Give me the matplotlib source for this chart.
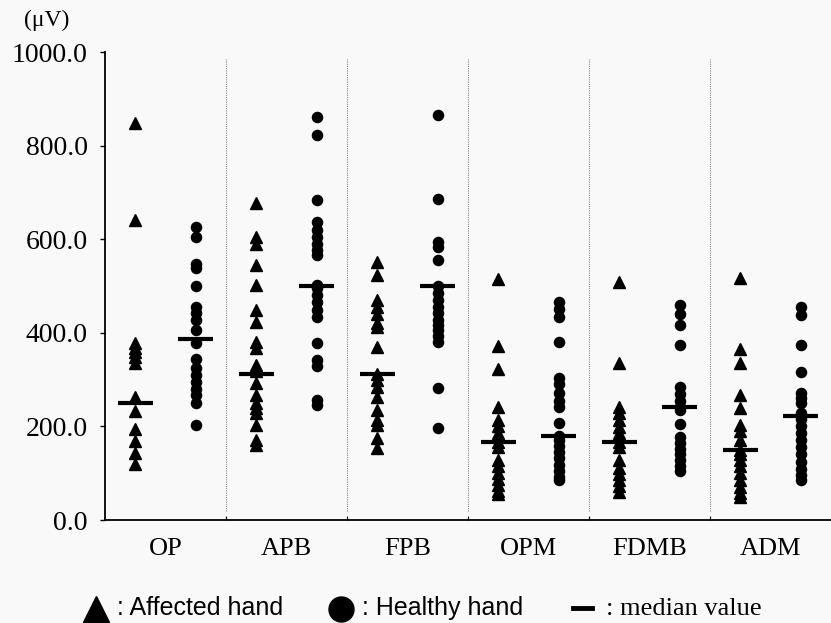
import matplotlib.pyplot as plt
from matplotlib.lines import Line2D

# muscle groups
categories = ['OP', 'APB', 'FPB', 'OPM', 'FDMB', 'ADM']

# amplitudes (uV), affected hand
affected = [
    [849, 642, 378, 368, 358, 348, 336, 262, 232, 195, 168, 143, 120],
    [677, 605, 590, 545, 502, 449, 424, 381, 367, 331, 318, 292, 267, 250, 240, 229, 203, 170, 160],
    [552, 524, 470, 455, 440, 421, 413, 370, 313, 300, 285, 263, 235, 214, 203, 175, 153],
    [515, 372, 322, 242, 214, 200, 185, 167, 157, 128, 115, 100, 88, 75, 62, 55],
    [509, 335, 242, 228, 214, 199, 185, 166, 155, 128, 112, 98, 85, 72, 60],
    [518, 365, 335, 267, 239, 203, 190, 171, 150, 142, 128, 115, 100, 85, 70, 58, 50],
]
# healthy hand
healthy = [
    [627, 605, 548, 538, 499, 456, 442, 427, 406, 378, 345, 325, 310, 295, 280, 268, 249, 203],
    [862, 823, 684, 637, 620, 605, 590, 577, 566, 502, 495, 480, 465, 449, 434, 378, 342, 328, 256, 246],
    [865, 685, 595, 584, 556, 499, 485, 470, 455, 442, 428, 417, 405, 393, 381, 283, 196],
    [466, 450, 434, 381, 303, 290, 271, 255, 242, 207, 180, 171, 158, 145, 132, 118, 105, 92, 85],
    [459, 440, 417, 375, 285, 270, 255, 242, 235, 205, 178, 165, 152, 140, 128, 115, 105],
    [456, 438, 374, 317, 271, 260, 250, 229, 215, 200, 185, 170, 155, 140, 125, 110, 97, 85],
]
# medians as drawn
med_affected = [251, 313, 313, 167, 166, 150]
med_healthy = [386, 499, 499, 180, 242, 222]

yticks = [0, 200, 400, 600, 800, 1000]

serif = 'Liberation Serif'
sans = 'Liberation Sans'
W, H = 831, 623

fig = plt.figure(figsize=(8.31, 6.23), dpi=100)
fig.patch.set_facecolor('#f9f9f9')
ax = fig.add_axes([105 / W, 1 - 520 / H, 726 / W, 468 / H])
ax.set_facecolor('#f9f9f9')

off = 0.25
hw = 0.145
for i in range(len(categories)):
    xa = i - off
    xh = i + off
    ax.plot([xa] * len(affected[i]), affected[i], ls='none', marker='^',
            ms=8, color='black', mec='black')
    ax.plot([xh] * len(healthy[i]), healthy[i], ls='none', marker='o',
            ms=7.3, color='black', mec='black')
    ax.hlines(med_affected[i], xa - hw, xa + hw, color='black', lw=3)
    ax.hlines(med_healthy[i], xh - hw, xh + hw, color='black', lw=3)

# dotted separators
for i in range(len(categories) - 1):
    ax.vlines(i + 0.5, 20, 985, color='#888888', lw=0.8, linestyles=(0, (1, 1)))

ax.set_xlim(-0.5, len(categories) - 0.5)
ax.set_ylim(0, 1000)
ax.set_yticks(yticks)
ax.set_yticklabels([f'{v:.1f}' for v in yticks], fontfamily=serif, fontsize=20)
ax.set_xticks(range(len(categories)))
ax.set_xticklabels(categories, fontfamily=serif, fontsize=19)
ax.set_xticks([i + 0.5 for i in range(len(categories) - 1)], minor=True)
ax.tick_params(axis='x', which='major', length=0, pad=13)
ax.tick_params(axis='x', which='minor', direction='in', length=3, width=0.8)
ax.tick_params(axis='y', direction='out', length=3.5, width=1, pad=9)

for s in ['top', 'right']:
    ax.spines[s].set_visible(False)
ax.spines['left'].set_linewidth(1.3)
ax.spines['bottom'].set_linewidth(1.3)

fig.text(24 / W, 1 - 20 / H, '(\u03bcV)', fontfamily=serif, fontsize=17, va='center')

# legend row
base = 1 - 615 / H
mid = 1 - 609 / H
fig.add_artist(Line2D([96 / W], [mid], transform=fig.transFigure, marker='^',
                      ms=19, color='black', ls='none'))
fig.text(117 / W, base, ': Affected hand', fontfamily=sans, fontsize=18, va='baseline')
fig.add_artist(Line2D([341 / W], [mid], transform=fig.transFigure, marker='o',
                      ms=18, color='black', ls='none'))
fig.text(362 / W, base, ': Healthy hand', fontfamily=sans, fontsize=18, va='baseline')
fig.add_artist(Line2D([573 / W, 592 / W], [1 - 608 / H] * 2, transform=fig.transFigure,
                      color='black', lw=3.5))
fig.text(606 / W, base, ': median value', fontfamily=serif, fontsize=19, va='baseline')

fig.savefig('out.png', dpi=100, facecolor=fig.get_facecolor())
